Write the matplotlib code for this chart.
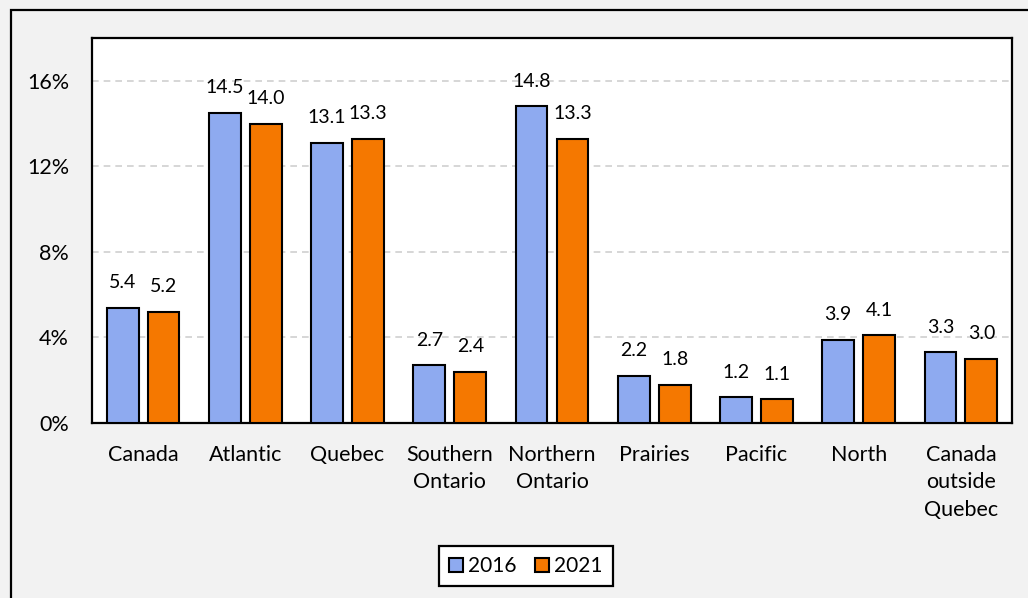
import matplotlib.pyplot as plt
import matplotlib.patches as mpatches
import numpy as np

#--chart data
regions=['Canada','Atlantic','Quebec','Southern\nOntario','Northern\nOntario','Prairies','Pacific','North','Canada\noutside\nQuebec']
years=['2016','2021']
v2016=[5.4,14.5,13.1,2.7,14.8,2.2,1.2,3.9,3.3]
v2021=[5.2,14.0,13.3,2.4,13.3,1.8,1.1,4.1,3.0]
yticks=[0,4,8,12,16]

#--style
plt.rcParams['font.family']=['Lato','DejaVu Sans']
c16='#8eaaf0' ; c21='#f57800'
bg='#f2f2f2'

fig=plt.figure(figsize=(10.28,5.98),dpi=100)
fig.patch.set_facecolor(bg)

#--outer frame (runs off right/bottom edge)
fig.patches.append(mpatches.Rectangle((11/1028,-0.05),1.2,1-10/598+0.05,transform=fig.transFigure,
                                      fill=False,edgecolor='black',linewidth=1.6,zorder=0))
#--title cut off at the top of the picture
fig.text(0.49,1+2.5/598,'Proportion of workers using the minority language regularly at work, by employment region, 2016 and 2021',
         ha='center',va='baseline',color='#2f5597',fontsize=13)

ax=fig.add_axes([92/1028,(598-423)/598,920/1028,(423-38)/598])
ax.set_facecolor('white')

x=np.arange(len(regions))
w=0.31
b1=ax.bar(x-0.2,v2016,w,color=c16,edgecolor='black',linewidth=1.5,label=years[0],zorder=3)
b2=ax.bar(x+0.2,v2021,w,color=c21,edgecolor='black',linewidth=1.5,label=years[1],zorder=3)

for bars,vals in [(b1,v2016),(b2,v2021)]:
  for r,v in zip(bars,vals):
    ax.annotate('%.1f'%v,(r.get_x()+r.get_width()/2,v),xytext=(0,12),textcoords='offset points',
                ha='center',va='bottom',fontsize=14)

ax.set_xlim(-0.5,len(regions)-0.5)
ax.set_ylim(0,18)
ax.set_yticks(yticks)
ax.set_yticklabels([str(t)+'%' for t in yticks])
ax.set_xticks(x)
ax.set_xticklabels(regions,fontsize=15.5,linespacing=1.45)
ax.tick_params(axis='y',length=0,pad=16.5,labelsize=15.5)
ax.tick_params(axis='x',length=0,pad=16)
for t in yticks[1:]:
  ax.axhline(t,color='#d0d0d0',linestyle=(0,(4,3)),linewidth=1.2,zorder=1)
for s in ax.spines.values():
  s.set_linewidth(1.6) ; s.set_color('black')

leg=fig.legend(handles=[b1,b2],loc='center',bbox_to_anchor=(526/1028,1-566/598),ncol=2,fontsize=15,
               frameon=True,fancybox=False,edgecolor='black',framealpha=1,
               handlelength=0.65,handleheight=0.65,handletextpad=0.25,columnspacing=0.9,borderpad=0.5)
leg.get_frame().set_linewidth(1.6)

fig.savefig('out.png',dpi=100,facecolor=fig.get_facecolor())
